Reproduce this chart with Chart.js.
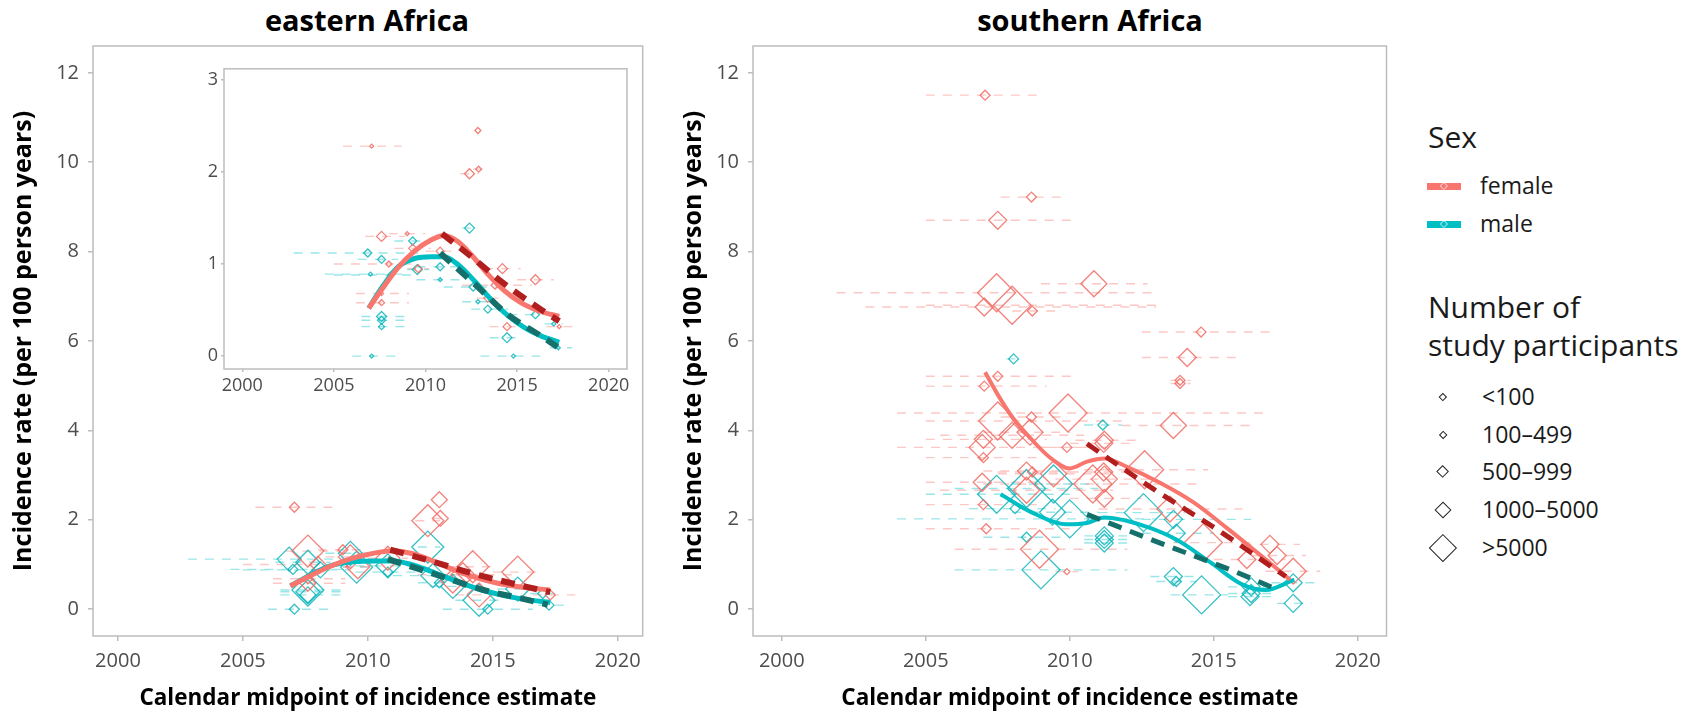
<!DOCTYPE html>
<html>
<head>
<meta charset="utf-8">
<style>
  body { margin: 0; background: #fff; width: 1692px; height: 713px; position: relative; overflow: hidden; font-family: 'Open Sans', sans-serif; color: #1a1a1a; }
  canvas { position: absolute; }
  .ptitle { position: absolute; top: 0; width: 400px; font-weight: bold; font-size: 29px; line-height: 40px; text-align: center; color: #000; }
  .lg { position: absolute; white-space: nowrap; }
  .lg-title { font-size: 30px; line-height: 38px; }
  .lg-item { font-size: 23px; line-height: 26px; }
  .dia { position: absolute; box-sizing: border-box; transform: rotate(45deg); }
  .key { position: absolute; height: 7px; width: 34px; }
</style>
</head>
<body>
<div class="ptitle" style="left:167px">eastern Africa</div>
<div class="ptitle" style="left:890px">southern Africa</div>

<canvas id="chartEast" width="660" height="713" style="left:0;top:0"></canvas>
<canvas id="chartSouth" width="760" height="713" style="left:660px;top:0"></canvas>
<canvas id="chartInset" width="460" height="350" style="left:180px;top:55px"></canvas>

<div id="legend"></div>

<script src="https://cdn.jsdelivr.net/npm/chart.js@4"></script>
<script>
// tick labels
const xTicks = [2000, 2005, 2010, 2015, 2020];
const yTicks = [0, 2, 4, 6, 8, 10, 12];
const insetYTicks = [0, 1, 2, 3];

// legend
const sexLabels = ['female', 'male'];
const sizeLabels = ['<100', '100\u2013499', '500\u2013999', '1000\u20135000', '>5000'];

// eastern Africa, female estimates (midpoint, rate, interval start, interval end, size class)
const eaFemYear = [2007.06, 2012.86, 2012.4, 2012.9, 2007.6, 2009.0, 2009.3, 2008.0, 2010.8, 2013.8, 2013.4, 2016.0, 2014.45, 2017.3, 2007.6, 2007.6, 2014.2, 2009.6];
const eaFemRate = [2.28, 2.45, 1.98, 2.03, 1.30, 1.33, 1.17, 1.00, 1.14, 0.77, 0.63, 0.83, 0.32, 0.32, 0.58, 0.68, 0.95, 0.95];
const eaFemLo   = [2005.5, 2012.86, 2011.9, 2012.6, 2006.7, 2008.0, 2008.3, 2005.0, 2010.0, 2012.0, 2012.8, 2015.0, 2013.5, 2016.6, 2006.2, 2006.2, 2013.2, 2009.0];
const eaFemHi   = [2008.7, 2012.86, 2012.9, 2013.2, 2008.9, 2010.0, 2010.3, 2009.3, 2011.6, 2015.8, 2014.0, 2017.0, 2015.0, 2018.3, 2009.1, 2009.1, 2015.2, 2010.2];
const eaFemSize = [1, 2, 4, 2, 4, 1, 3, 2, 3, 3, 3, 4, 3, 1, 2, 1, 4, 3];

// eastern Africa, male estimates
const eaMalYear = [2007.06, 2014.8, 2012.4, 2009.3, 2006.85, 2007.6, 2007.0, 2009.55, 2010.8, 2010.8, 2012.6, 2012.86, 2013.4, 2016.0, 2014.45, 2017.0, 2017.25, 2007.6, 2007.6, 2007.6, 2008.1];
const eaMalRate = [0.00, 0.00, 1.39, 1.25, 1.12, 1.05, 0.89, 0.94, 0.97, 0.83, 0.75, 0.59, 0.51, 0.45, 0.20, 0.35, 0.09, 0.43, 0.39, 0.32, 0.88];
const eaMalLo   = [2006.0, 2013.0, 2012.0, 2008.3, 2002.8, 2006.3, 2004.5, 2009.0, 2009.5, 2009.5, 2011.0, 2012.0, 2012.5, 2014.5, 2013.5, 2016.5, 2016.8, 2006.5, 2006.5, 2006.5, 2005.0];
const eaMalHi   = [2008.6, 2016.6, 2012.9, 2010.0, 2009.6, 2008.5, 2009.0, 2010.2, 2012.0, 2012.0, 2014.5, 2013.5, 2014.5, 2017.0, 2015.3, 2017.5, 2018.0, 2009.1, 2009.1, 2009.1, 2009.3];
const eaMalSize = [1, 1, 4, 3, 3, 3, 1, 4, 3, 1, 3, 1, 3, 3, 4, 1, 1, 4, 3, 2, 2];

// eastern Africa, smoothed trend and fitted decline
const eaFemSmoothX = [2006.9, 2007.6, 2008.5, 2009.4, 2010.3, 2011.0, 2011.8, 2012.5, 2013.4, 2014.3, 2015.2, 2016.2, 2017.3];
const eaFemSmoothY = [0.52, 0.72, 0.96, 1.14, 1.26, 1.31, 1.24, 1.10, 0.89, 0.71, 0.58, 0.49, 0.43];
const eaFemFitX = [2010.9, 2012.5, 2014.2, 2016.2, 2017.3];
const eaFemFitY = [1.33, 1.08, 0.80, 0.52, 0.38];
const eaMalSmoothX = [2006.9, 2007.6, 2008.5, 2009.4, 2010.3, 2011.0, 2011.8, 2012.7, 2013.6, 2014.5, 2015.4, 2016.3, 2017.3];
const eaMalSmoothY = [0.52, 0.74, 0.97, 1.06, 1.08, 1.08, 0.99, 0.81, 0.61, 0.44, 0.31, 0.22, 0.15];
const eaMalFitX = [2010.8, 2012.7, 2014.5, 2016.3, 2017.2];
const eaMalFitY = [1.12, 0.78, 0.45, 0.22, 0.10];

// southern Africa, female estimates
const saFemYear = [2007.06, 2008.67, 2007.5, 2007.46, 2010.84, 2007.03, 2008.0, 2008.7, 2007.5, 2007.03, 2009.94, 2007.5, 2008.67, 2008.0, 2006.96, 2007.0, 2007.0, 2009.9, 2011.18, 2011.18, 2009.44, 2012.6, 2006.96, 2008.5, 2008.7, 2011.2, 2010.8, 2007.0, 2007.1, 2008.95, 2009.9, 2013.83, 2013.83, 2014.08, 2014.56, 2013.6, 2011.2, 2011.2, 2013.48, 2014.64, 2016.95, 2017.2, 2017.76, 2016.15, 2008.62, 2008.5];
const saFemRate = [11.5, 9.22, 8.7, 7.08, 7.28, 6.76, 6.8, 6.67, 5.21, 4.99, 4.39, 4.21, 4.30, 3.89, 3.62, 3.80, 3.39, 3.62, 3.71, 3.07, 3.03, 3.12, 2.84, 2.66, 3.07, 2.48, 2.80, 2.34, 1.80, 1.34, 0.84, 5.05, 5.12, 5.63, 6.20, 4.11, 3.78, 2.91, 2.24, 1.49, 1.45, 1.20, 0.85, 1.11, 3.96, 3.09];
const saFemLo   = [2005.0, 2007.6, 2005.0, 2001.9, 2009.0, 2002.9, 2005.0, 2008.0, 2005.0, 2005.0, 2004.0, 2005.0, 2007.6, 2005.5, 2004.0, 2005.0, 2005.0, 2009.0, 2010.0, 2010.0, 2007.5, 2010.5, 2005.0, 2005.5, 2007.5, 2010.0, 2007.0, 2005.0, 2005.0, 2006.0, 2009.5, 2013.5, 2013.5, 2012.5, 2012.5, 2011.8, 2010.2, 2009.5, 2011.0, 2013.0, 2016.0, 2016.3, 2016.8, 2015.0, 2007.0, 2007.0];
const saFemHi   = [2009.1, 2009.8, 2010.1, 2013.0, 2012.7, 2013.0, 2013.0, 2009.5, 2010.1, 2009.2, 2016.8, 2012.0, 2009.8, 2010.5, 2011.3, 2009.2, 2009.0, 2010.8, 2012.3, 2012.3, 2011.5, 2014.8, 2009.0, 2011.5, 2010.0, 2012.5, 2014.5, 2009.0, 2010.0, 2012.0, 2010.3, 2014.2, 2014.2, 2016.0, 2017.0, 2016.5, 2012.3, 2013.0, 2016.0, 2016.5, 2018.0, 2018.2, 2018.7, 2017.5, 2010.0, 2010.0];
const saFemSize = [1, 1, 2, 4, 3, 2, 4, 1, 1, 1, 4, 4, 1, 3, 3, 2, 1, 1, 2, 2, 3, 4, 2, 3, 1, 2, 4, 1, 1, 4, 0, 1, 1, 2, 1, 3, 2, 3, 3, 4, 2, 2, 3, 2, 3, 2];

// southern Africa, male estimates
const saMalYear = [2008.05, 2011.15, 2007.46, 2008.5, 2009.44, 2010.0, 2011.2, 2011.2, 2011.2, 2008.5, 2009.0, 2008.1, 2012.56, 2013.6, 2013.7, 2013.6, 2013.7, 2014.58, 2016.26, 2016.3, 2016.3, 2017.76, 2017.76, 2009.4];
const saMalRate = [5.60, 4.12, 2.57, 2.70, 2.80, 2.02, 1.48, 1.56, 1.64, 1.61, 0.88, 2.25, 2.16, 2.01, 1.70, 0.73, 0.62, 0.32, 0.28, 0.35, 0.50, 0.59, 0.13, 2.17];
const saMalLo   = [2007.8, 2010.5, 2005.0, 2006.0, 2008.0, 2004.0, 2010.5, 2010.5, 2010.5, 2007.0, 2006.0, 2006.5, 2011.0, 2012.5, 2012.5, 2012.8, 2013.0, 2013.5, 2015.5, 2015.5, 2015.5, 2017.0, 2017.2, 2008.0];
const saMalHi   = [2008.3, 2011.8, 2010.0, 2011.0, 2011.0, 2013.0, 2012.0, 2012.0, 2012.0, 2010.0, 2012.0, 2009.5, 2014.0, 2016.3, 2015.0, 2014.5, 2014.4, 2015.5, 2017.0, 2017.0, 2017.0, 2018.7, 2018.4, 2011.0];
const saMalSize = [1, 1, 4, 4, 4, 4, 2, 2, 2, 1, 4, 1, 4, 2, 2, 2, 1, 4, 2, 2, 2, 2, 2, 3];

// southern Africa, smoothed trend and fitted decline
const saFemSmoothX = [2007.06, 2007.5, 2008.0, 2008.6, 2009.3, 2010.0, 2010.6, 2011.2, 2012.0, 2013.1, 2014.3, 2015.45, 2016.6, 2017.65];
const saFemSmoothY = [5.3, 4.8, 4.3, 3.85, 3.4, 3.15, 3.3, 3.37, 3.18, 2.84, 2.39, 1.82, 1.22, 0.66];
const saFemFitX = [2010.6, 2012.9, 2015.1, 2017.5];
const saFemFitY = [3.7, 2.69, 1.79, 0.73];
const saMalSmoothX = [2007.6, 2008.7, 2009.9, 2010.6, 2011.2, 2012.6, 2013.7, 2014.9, 2016.0, 2016.8, 2017.8];
const saMalSmoothY = [2.57, 2.16, 1.9, 1.93, 2.05, 1.86, 1.56, 1.04, 0.55, 0.43, 0.66];
const saMalFitX = [2010.6, 2013.1, 2015.7, 2017.1];
const saMalFitY = [2.12, 1.49, 0.85, 0.47];

const FEMALE = '#F8766D', MALE = '#00BFC4';
const FEMALE_DARK = '#B01E1E', MALE_DARK = '#15706B';
const AXIS_GREY = '#bdbdbd', TICK_TEXT = '#4d4d4d';

Chart.defaults.font.family = "'Open Sans', sans-serif";
Chart.defaults.animation = false;

function points(xs, ys) {
    return xs.map((x, i) => ({x: x, y: ys[i]}));
}

// one segment per estimate, broken by an empty point
function intervals(ys, lo, hi) {
    const d = [];
    ys.forEach((y, i) => {
        d.push({x: lo[i], y: y}, {x: hi[i], y: y}, {x: null, y: null});
    });
    return d;
}

const panelBox = {
    id: 'panelBox',
    afterDraw(chart) {
        const a = chart.chartArea, ctx = chart.ctx;
        ctx.save();
        ctx.strokeStyle = AXIS_GREY;
        ctx.lineWidth = 1.5;
        ctx.strokeRect(a.left, a.top, a.right - a.left, a.bottom - a.top);
        ctx.restore();
    }
};

function makePanel(canvasId, cfg) {
    const sexData = [
        [cfg.femYear, cfg.femRate, cfg.femLo, cfg.femHi, cfg.femSize, cfg.femSmooth, cfg.femFit, FEMALE, FEMALE_DARK, 'rgba(240,108,100,0.85)', 'rgba(248,118,109,0.4)'],
        [cfg.malYear, cfg.malRate, cfg.malLo, cfg.malHi, cfg.malSize, cfg.malSmooth, cfg.malFit, MALE, MALE_DARK, 'rgba(0,178,184,0.8)', 'rgba(0,191,196,0.4)']
    ];
    const datasets = [];
    sexData.forEach(([yr, rate, lo, hi, size, smooth, fit, col, dark, stroke, bar]) => {
        datasets.push({
            data: intervals(rate, lo, hi), showLine: true, spanGaps: false,
            borderColor: bar, borderWidth: 1.4, borderDash: [9, 8], pointRadius: 0, order: 10
        });
        datasets.push({
            data: points(yr, rate), showLine: false, pointStyle: 'rectRot',
            pointRadius: c => cfg.radii[size[c.dataIndex]],
            pointHoverRadius: c => cfg.radii[size[c.dataIndex]],
            pointBorderColor: stroke, pointBackgroundColor: 'rgba(0,0,0,0)',
            pointBorderWidth: 1.3, order: 5
        });
        datasets.push({
            data: points(smooth[0], smooth[1]), showLine: true, cubicInterpolationMode: 'monotone',
            borderColor: col, borderWidth: cfg.lineWidth, pointRadius: 0, order: 2
        });
        datasets.push({
            data: points(fit[0], fit[1]), showLine: true, cubicInterpolationMode: 'monotone',
            borderColor: dark, borderWidth: cfg.lineWidth + 1, borderDash: [14, 9], borderCapStyle: 'butt',
            pointRadius: 0, order: 1
        });
    });

    return new Chart(document.getElementById(canvasId).getContext('2d'), {
        type: 'scatter',
        data: {datasets: datasets},
        plugins: [panelBox],
        options: {
            responsive: false,
            events: [],
            layout: {padding: cfg.padding},
            plugins: {legend: {display: false}, tooltip: {enabled: false}},
            scales: {
                x: {
                    type: 'linear', min: 1999, max: 2021,
                    afterBuildTicks: s => { s.ticks = xTicks.map(v => ({value: v})); },
                    afterFit: s => { s.height = cfg.xHeight; },
                    border: {display: false},
                    grid: {drawOnChartArea: false, drawTicks: true, tickLength: cfg.tickLength, color: AXIS_GREY, lineWidth: 1.5},
                    ticks: {callback: v => String(v), color: TICK_TEXT, font: {size: cfg.tickSize}, padding: cfg.xPad, maxRotation: 0},
                    title: cfg.xTitle
                },
                y: {
                    type: 'linear', min: cfg.yMin, max: cfg.yMax,
                    afterBuildTicks: s => { s.ticks = cfg.yTicks.map(v => ({value: v})); },
                    afterFit: s => { s.width = cfg.yWidth; },
                    border: {display: false},
                    grid: {drawOnChartArea: false, drawTicks: true, tickLength: cfg.tickLength, color: AXIS_GREY, lineWidth: 1.5},
                    ticks: {callback: v => String(v), color: TICK_TEXT, font: {size: cfg.tickSize}, padding: cfg.yPad},
                    title: cfg.yTitle
                }
            }
        }
    });
}

const yTitleText = 'Incidence rate (per 100 person years)';
const xTitleText = 'Calendar midpoint of incidence estimate';

makePanel('chartEast', {
    femYear: eaFemYear, femRate: eaFemRate, femLo: eaFemLo, femHi: eaFemHi, femSize: eaFemSize,
    malYear: eaMalYear, malRate: eaMalRate, malLo: eaMalLo, malHi: eaMalHi, malSize: eaMalSize,
    femSmooth: [eaFemSmoothX, eaFemSmoothY], femFit: [eaFemFitX, eaFemFitY],
    malSmooth: [eaMalSmoothX, eaMalSmoothY], malFit: [eaMalFitX, eaMalFitY],
    radii: [3, 5, 8, 12, 16], lineWidth: 5,
    padding: {left: 0, top: 46, right: 17, bottom: 0},
    xHeight: 77, yWidth: 93, yMin: -0.6, yMax: 12.6, yTicks: yTicks,
    tickLength: 5, tickSize: 20, xPad: 8, yPad: 9,
    xTitle: {display: true, text: xTitleText, color: '#000', font: {size: 22.5, weight: 'bold'}, padding: {top: 0, bottom: 1}},
    yTitle: {display: true, text: yTitleText, color: '#000', font: {size: 25, weight: 'bold'}, padding: {top: 9, bottom: 0}}
});

makePanel('chartInset', {
    femYear: eaFemYear, femRate: eaFemRate, femLo: eaFemLo, femHi: eaFemHi, femSize: eaFemSize,
    malYear: eaMalYear, malRate: eaMalRate, malLo: eaMalLo, malHi: eaMalHi, malSize: eaMalSize,
    femSmooth: [eaFemSmoothX, eaFemSmoothY], femFit: [eaFemFitX, eaFemFitY],
    malSmooth: [eaMalSmoothX, eaMalSmoothY], malFit: [eaMalFitX, eaMalFitY],
    radii: [1.5, 2, 3, 4, 5], lineWidth: 5,
    padding: {left: 0, top: 9.5, right: 13, bottom: 0},
    xHeight: 36, yWidth: 44, yMin: -0.14, yMax: 3.12, yTicks: insetYTicks,
    tickLength: 3, tickSize: 18, xPad: 3, yPad: 3,
    xTitle: {display: false}, yTitle: {display: false}
});

makePanel('chartSouth', {
    femYear: saFemYear, femRate: saFemRate, femLo: saFemLo, femHi: saFemHi, femSize: saFemSize,
    malYear: saMalYear, malRate: saMalRate, malLo: saMalLo, malHi: saMalHi, malSize: saMalSize,
    femSmooth: [saFemSmoothX, saFemSmoothY], femFit: [saFemFitX, saFemFitY],
    malSmooth: [saMalSmoothX, saMalSmoothY], malFit: [saMalFitX, saMalFitY],
    radii: [3, 5, 9, 13, 19], lineWidth: 4,
    padding: {left: 0, top: 46, right: 33.5, bottom: 0},
    xHeight: 77, yWidth: 93, yMin: -0.6, yMax: 12.6, yTicks: yTicks,
    tickLength: 5, tickSize: 20, xPad: 8, yPad: 9,
    xTitle: {display: true, text: xTitleText, color: '#000', font: {size: 22.5, weight: 'bold'}, padding: {top: 0, bottom: 1}},
    yTitle: {display: true, text: yTitleText, color: '#000', font: {size: 25, weight: 'bold'}, padding: {top: 19, bottom: 0}}
});

// legend (HTML)
(function() {
    const lg = document.getElementById('legend');
    function add(html) { lg.insertAdjacentHTML('beforeend', html); }
    function diamond(cx, cy, diag, border) {
        const s = diag / Math.SQRT2;
        add('<div class="dia" style="left:' + (cx - s / 2) + 'px;top:' + (cy - s / 2) + 'px;width:' + s + 'px;height:' + s + 'px;border:' + border + '"></div>');
    }
    add('<div class="lg lg-title" style="left:1428px;top:118px">Sex</div>');
    const sexCols = [FEMALE, MALE];
    const sexY = [186, 224];
    sexLabels.forEach((lab, i) => {
        add('<div class="key" style="left:1427px;top:' + (sexY[i] - 3.5) + 'px;background:' + sexCols[i] + '"></div>');
        diamond(1444, sexY[i], 8, '1.2px solid rgba(255,255,255,0.6)');
        add('<div class="lg lg-item" style="left:1480px;top:' + (sexY[i] - 14) + 'px">' + lab + '</div>');
    });
    add('<div class="lg lg-title" style="left:1428px;top:288px">Number of<br>study participants</div>');
    const sizeY = [397, 435, 472, 510, 548];
    const sizeDiag = [8, 9, 13, 17, 28];
    sizeLabels.forEach((lab, i) => {
        diamond(1443, sizeY[i], sizeDiag[i], '1.3px solid #222');
        add('<div class="lg lg-item" style="left:1482px;top:' + (sizeY[i] - 14) + 'px">' + lab.replace('<', '&lt;').replace('>', '&gt;') + '</div>');
    });
})();
</script>
</body>
</html>
